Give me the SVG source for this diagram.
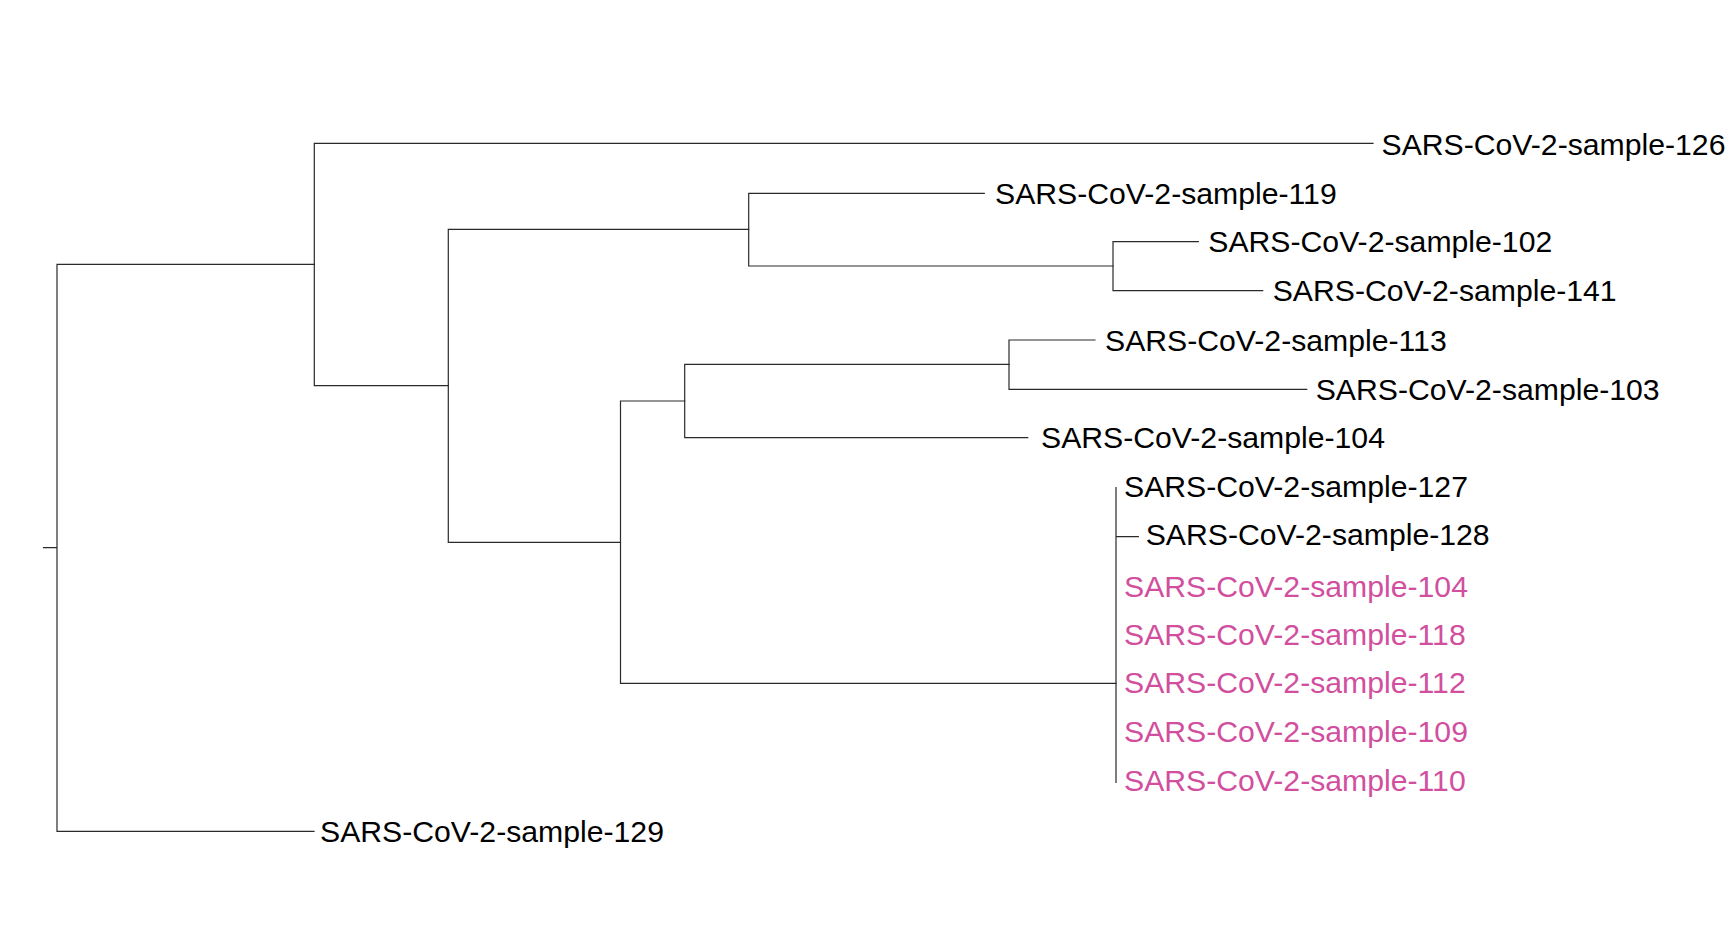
<svg xmlns="http://www.w3.org/2000/svg" width="1729" height="925" viewBox="0 0 1729 925">
<style>
.e{stroke:#2a2a2a;stroke-width:1.2;fill:none;stroke-linecap:square}
.t{font-family:"Liberation Sans",Arial,sans-serif;font-size:30.2px;fill:#000}
.p{fill:#d14f9e}
</style>
<rect width="1729" height="925" fill="#fff"/>
<g id="connectors">
<path class="e" d="M43.5 547.7H57M57 264.3V831.3M57 264.3H314.3M57 831.3H314"/>
<path class="e" d="M314.3 143.3V385.7M314.3 143.3H1373M314.3 385.7H448.3"/>
<path class="e" d="M448.3 229.3V542.3M448.3 229.3H748.7M448.3 542.3H620.5"/>
<path class="e" d="M748.7 193.3V266M748.7 193.3H984.3M748.7 266H1113"/>
<path class="e" d="M1113 241.7V290.7M1113 241.7H1198.3M1113 290.7H1262.7"/>
<path class="e" d="M620.5 401V683.3M620.5 401H684.7M620.5 683.3H1116"/>
<path class="e" d="M684.7 364.3V437.7M684.7 364.3H1009M684.7 437.7H1027.7"/>
<path class="e" d="M1009 340V389.3M1009 340H1095M1009 389.3H1306.7"/>
<path class="e" d="M1116 487.7V782.3M1116 536.7H1138.3"/>
</g>
<g id="leaf-126"><text class="t" x="1381.5" y="154.5">SARS-CoV-2-sample-126</text></g>
<g id="leaf-119"><text class="t" x="995" y="203.5">SARS-CoV-2-sample-119</text></g>
<g id="leaf-102"><text class="t" x="1208.3" y="252">SARS-CoV-2-sample-102</text></g>
<g id="leaf-141"><text class="t" x="1272.7" y="301">SARS-CoV-2-sample-141</text></g>
<g id="leaf-113"><text class="t" x="1105" y="350.5">SARS-CoV-2-sample-113</text></g>
<g id="leaf-103"><text class="t" x="1315.7" y="399.5">SARS-CoV-2-sample-103</text></g>
<g id="leaf-104a"><text class="t" x="1041" y="448">SARS-CoV-2-sample-104</text></g>
<g id="leaf-127"><text class="t" x="1124" y="497">SARS-CoV-2-sample-127</text></g>
<g id="leaf-128"><text class="t" x="1145.7" y="545">SARS-CoV-2-sample-128</text></g>
<g id="leaf-104b"><text class="t p" x="1124" y="596.7">SARS-CoV-2-sample-104</text></g>
<g id="leaf-118"><text class="t p" x="1124" y="645">SARS-CoV-2-sample-118</text></g>
<g id="leaf-112"><text class="t p" x="1124" y="693.3">SARS-CoV-2-sample-112</text></g>
<g id="leaf-109"><text class="t p" x="1124" y="741.7">SARS-CoV-2-sample-109</text></g>
<g id="leaf-110"><text class="t p" x="1124" y="790.7">SARS-CoV-2-sample-110</text></g>
<g id="leaf-129"><text class="t" x="320" y="842">SARS-CoV-2-sample-129</text></g>
</svg>
